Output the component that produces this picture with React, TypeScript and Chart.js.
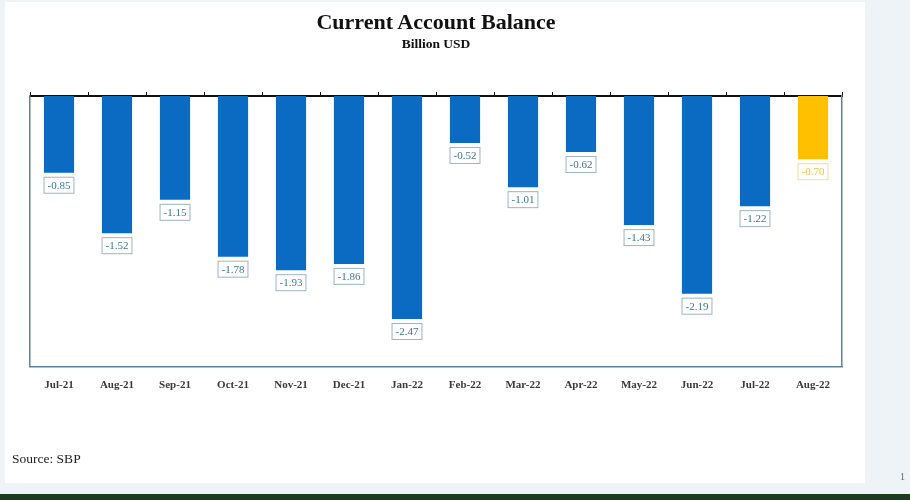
import { useEffect, useRef } from 'react';
import { Chart, registerables } from 'chart.js';

Chart.register(...registerables);

// Current account balance, billion USD (source: SBP)
const months = [
  'Jul-21', 'Aug-21', 'Sep-21', 'Oct-21', 'Nov-21', 'Dec-21', 'Jan-22',
  'Feb-22', 'Mar-22', 'Apr-22', 'May-22', 'Jun-22', 'Jul-22', 'Aug-22',
];
const balance = [-0.85, -1.52, -1.15, -1.78, -1.93, -1.86, -2.47, -0.52, -1.01, -0.62, -1.43, -2.19, -1.22, -0.7];
const highlightIndex = 13;

const BLUE = '#0b6bc2';
const GOLD = '#ffc000';
const SERIF = '"Liberation Serif", "DejaVu Serif", serif';

// boxed value label under the end of each bar
const valueLabels = {
  id: 'valueLabels',
  afterDatasetsDraw(chart: Chart) {
    const { ctx } = chart;
    const meta = chart.getDatasetMeta(0);
    ctx.save();
    ctx.font = `11px ${SERIF}`;
    ctx.textAlign = 'center';
    ctx.textBaseline = 'middle';
    meta.data.forEach((bar: any, i: number) => {
      const text = balance[i].toFixed(2);
      const w = ctx.measureText(text).width + 8;
      const h = 17;
      const x = bar.x - w / 2;
      const y = bar.y + 4;
      const hl = i === highlightIndex;
      ctx.fillStyle = '#ffffff';
      ctx.fillRect(x, y, w, h);
      ctx.lineWidth = 1;
      ctx.strokeStyle = hl ? '#f3dc9a' : '#9db3c4';
      ctx.strokeRect(x + 0.5, y + 0.5, w - 1, h - 1);
      ctx.fillStyle = hl ? '#f2c14a' : '#3f74a0';
      ctx.fillText(text, bar.x, y + h / 2 + 0.5);
    });
    ctx.restore();
  },
};

export default function App() {
  const chartRef = useRef<HTMLCanvasElement>(null);

  useEffect(() => {
    if (!chartRef.current) return;
    const ctx = chartRef.current.getContext('2d');
    if (!ctx) return;

    const chart = new Chart(ctx, {
      type: 'bar',
      data: {
        labels: months,
        datasets: [
          {
            data: balance,
            backgroundColor: balance.map((_, i) => (i === highlightIndex ? GOLD : BLUE)),
            categoryPercentage: 1,
            barPercentage: 0.52,
            xAxisID: 'x',
            yAxisID: 'y',
          },
        ],
      },
      plugins: [valueLabels],
      options: {
        animation: false,
        responsive: false,
        maintainAspectRatio: false,
        layout: { padding: { left: 30, right: 68, top: 92, bottom: 96 } },
        plugins: {
          legend: { display: false },
          tooltip: { enabled: false },
        },
        scales: {
          x: {
            position: 'bottom',
            grid: { display: false, drawTicks: false },
            border: { color: '#5d8299', width: 1.5 },
            ticks: {
              padding: 12,
              color: '#3a3a3a',
              font: { family: SERIF, size: 11, weight: 'bold' },
              maxRotation: 0,
              autoSkip: false,
            },
          },
          xTop: {
            type: 'category',
            position: 'top',
            labels: months,
            ticks: { display: false },
            grid: { offset: true, drawOnChartArea: false, tickLength: 4, color: '#111' },
            border: { color: '#111', width: 2 },
          },
          y: {
            min: -3,
            max: 0,
            ticks: { display: false },
            grid: { display: false, drawTicks: false },
            border: { color: '#5d8299', width: 1.5 },
          },
          yRight: {
            type: 'linear',
            position: 'right',
            min: -3,
            max: 0,
            ticks: { display: false },
            grid: { display: false, drawTicks: false },
            border: { color: '#5d8299', width: 1.5 },
          },
        },
      },
    });

    return () => {
      chart.destroy();
    };
  }, []);

  return (
    <div style={{ position: 'fixed', left: 0, top: 0, width: 910, height: 500, background: '#eef3f8', overflow: 'hidden', fontFamily: SERIF }}>
      <div style={{ position: 'absolute', left: 5, top: 2, width: 860, height: 481, background: '#ffffff' }} />
      <div style={{ position: 'absolute', left: 0, top: 494, width: 910, height: 6, background: '#1e3b22' }} />
      <canvas ref={chartRef} width={910} height={500} style={{ position: 'absolute', left: 0, top: 0, width: 910, height: 500 }} />
      <div style={{ position: 'absolute', left: 0, width: 872, top: 9, textAlign: 'center', fontSize: 22, fontWeight: 'bold', color: '#111' }}>
        Current Account Balance
      </div>
      <div style={{ position: 'absolute', left: 0, width: 872, top: 36, textAlign: 'center', fontSize: 13.5, fontWeight: 'bold', color: '#111' }}>
        Billion USD
      </div>
      <div style={{ position: 'absolute', left: 12, top: 451, fontSize: 13.5, color: '#222' }}>Source: SBP</div>
      <div style={{ position: 'absolute', left: 900, top: 471, fontSize: 10, color: '#666' }}>1</div>
    </div>
  );
}
